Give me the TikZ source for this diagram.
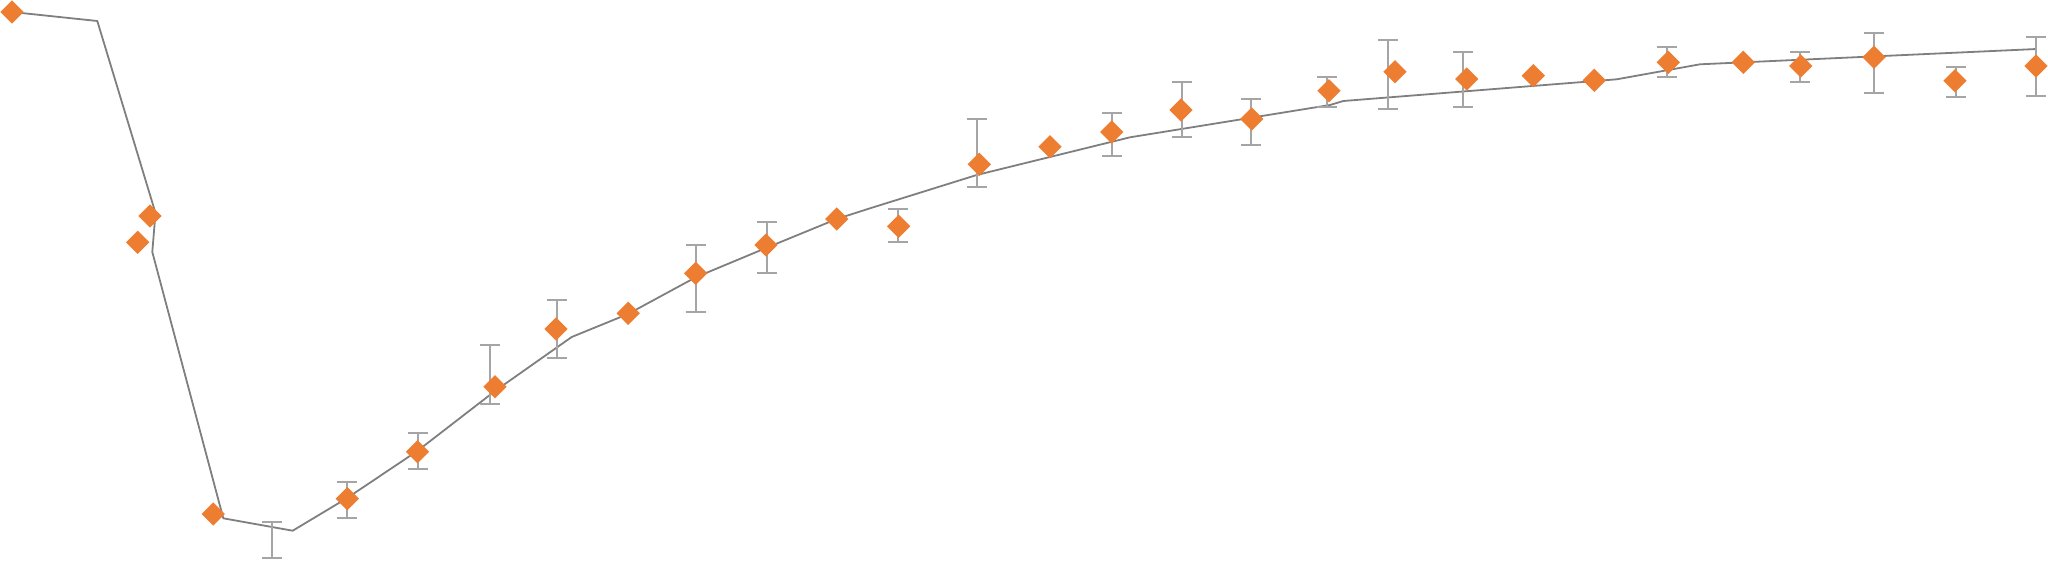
\documentclass[tikz,border=0pt]{standalone}
\usetikzlibrary{shapes.geometric}
\definecolor{ptorange}{HTML}{ED7D31}
\definecolor{fitgray}{HTML}{7F7F7F}
\definecolor{errgray}{HTML}{A5A5A5}
\tikzset{
  datapt/.style={diamond,aspect=1,fill=ptorange,draw=none,inner sep=0pt,minimum width=23.5pt,minimum height=23.5pt},
  fitline/.style={draw=fitgray,line width=1.8pt,line join=round},
  errbar/.style={draw=errgray,line width=2pt}
}
\begin{document}
\begin{tikzpicture}[x=1pt,y=-1pt]
\useasboundingbox (0,0) rectangle (2048,560);
% fitted line vertices
\foreach \n/\x/\y in {1/12/12,2/97.3/21,3/155.5/213,4/152.3/252,5/223.3/518.3,6/292.7/530.7,7/346.7/498.3,8/417.3/451,9/495/391,10/571.7/337,11/628/314,12/695.7/277.3,13/766/248,14/836.7/219,15/870/208.3,16/976.7/175,17/1130/137.3,18/1330/105,19/1343.3/101,20/1616.7/79.3,21/1700/64.3,22/2036.7/49}
  \coordinate (f\n) at (\x,\y);
\draw[fitline] (f1)--(f2)--(f3)--(f4)--(f5)--(f6)--(f7)--(f8)--(f9)--(f10)--(f11)--(f12)--(f13)--(f14)--(f15)--(f16)--(f17)--(f18)--(f19)--(f20)--(f21)--(f22);
% error bars
\foreach \n/\x/\t/\b in {1/271.7/522.3/558.3,2/346.7/481.7/517.7,3/417.5/432.5/468.5,4/490.3/345/403.7,5/556.5/300/358.3,6/695.7/244.5/311.5,7/766.5/222.3/273.3,8/898.3/209.3/241.7,9/976.7/119.3/187.3,10/1112.3/113.3/155.7,11/1181.7/82.3/137.3,12/1250.7/98.7/145.3,13/1327.3/77/107.3,14/1388.3/40/109.3,15/1463.3/52.3/106.7,16/1666.7/46.7/77.3,17/1800/51.7/81.7,18/1874/32.7/92.7,19/1956/66.7/97.3,20/2036/36.7/95.7}{
  \coordinate (et\n) at (\x,\t);
  \coordinate (eb\n) at (\x,\b);
  \draw[errbar] (et\n)--(eb\n);
  \draw[errbar] ([xshift=-10pt]et\n)--([xshift=10pt]et\n);
  \draw[errbar] ([xshift=-10pt]eb\n)--([xshift=10pt]eb\n);
}
% data points
\foreach \n/\x/\y in {1/12/12,2/150/216,3/137.7/242.3,4/213.3/514,5/347.3/498.7,6/417.5/451.7,7/495/386.7,8/556/329,9/628.2/313.3,10/695.7/273.3,11/766/245,12/836.7/219,13/898.7/226.3,14/979.3/164.3,15/1050/146.7,16/1111.7/132,17/1181/110,18/1251.7/119,19/1329/90.7,20/1395/71.7,21/1466.7/79,22/1533.3/75.7,23/1594.3/80.3,24/1668.3/62.3,25/1743.3/62.3,26/1800.7/66,27/1874/57.3,28/1955/80.7,29/2036/66}
  \node[datapt] (d\n) at (\x,\y) {};
\end{tikzpicture}
\end{document}
